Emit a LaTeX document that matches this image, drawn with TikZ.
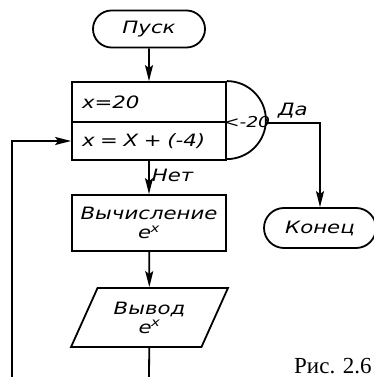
\documentclass[tikz,border=0pt]{standalone}
\usepackage{fontspec}
\setmainfont{Liberation Serif}
\newfontfamily\gost[FakeStretch=1.25]{DejaVu Sans}
\usetikzlibrary{shapes.misc,shapes.geometric,arrows.meta}
\newcommand\ex{e\textsuperscript{\kern-0.5pt x}}
\tikzset{
  every node/.style={font=\gost\itshape\fontsize{17}{19}\selectfont},
  term/.style={draw, rounded rectangle, minimum width=112pt, inner sep=0pt},
  block/.style={draw, rectangle, minimum width=154pt, inner sep=0pt, align=center},
  io/.style={draw, trapezium, trapezium left angle=60, trapezium right angle=120,
    trapezium stretches=true, minimum width=157pt, minimum height=59pt,
    inner sep=0pt, align=center},
  line/.style={line width=1.8pt},
  arr/.style={line, -{Stealth[length=16pt,width=8pt,inset=3pt]}}
}
\begin{document}
\begin{tikzpicture}[x=1pt,y=1pt]
  \useasboundingbox (0,0) rectangle (374,377);
  % Блоки
  \node[term, line, minimum height=37pt] (start) at (149,348) {Пуск};
  \node[block, line, minimum height=40pt, text width=134pt, align=left] (init) at (149,275) {x=20};
  \node[block, line, minimum height=38pt, text width=134pt, align=left] (step) at (149,236) {x = X + (-4)};
  \draw[line] (init.north east) arc[start angle=90, end angle=-90, radius=39pt];
  \coordinate (cond) at ([xshift=39pt]init.south east);
  \node[font=\gost\itshape\fontsize{15}{17}\selectfont] (test) at (247,255) {<-20};
  \node[block, line, minimum height=56pt] (calc) at (149,154) {Вычисление\\\ex};
  \node[io, line] (out) at (149.5,59.5) {Вывод\\\ex};
  \node[term, line, minimum height=40pt] (fin) at (320,149) {Конец};
  \coordinate (outend) at (149,0);
  \coordinate (back) at (12,0);
  % Связи
  \draw[arr] (start) -- (init);
  \draw[arr] (step) -- node[pos=0.45, right, inner sep=2pt] {Нет} (calc);
  \draw[arr] (calc) -- (out);
  \draw[line] (out) -- (outend);
  \draw[arr] (back) |- (step.west);
  \draw[arr] (cond) -| node[pos=0.25, above] {Да} (fin.north);
  \node[anchor=base west, inner sep=0pt, font=\fontsize{23}{25}\selectfont] (fig) at (294,4) {Рис. 2.6};
\end{tikzpicture}
\end{document}
